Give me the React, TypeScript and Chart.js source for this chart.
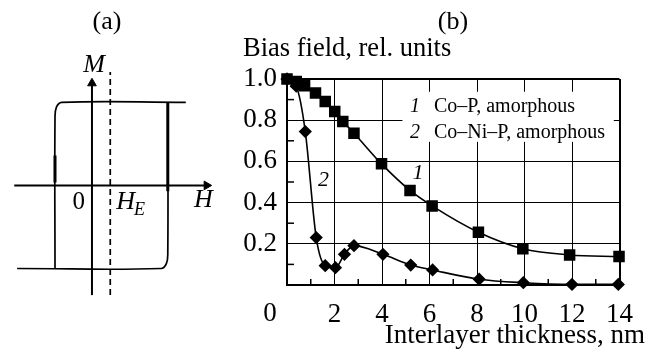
import React, { useEffect, useRef } from 'react';
import { Chart, registerables } from 'chart.js';

Chart.register(...registerables);

const FONT = '"Liberation Serif", "Times New Roman", serif';

// ---------- Panel (b): bias field vs interlayer thickness ----------
const thicknessCoP = [0, 0.39, 0.74, 1.2, 1.61, 2.01, 2.35, 2.82, 3.98, 5.18, 6.11, 8.06, 9.93, 11.9, 13.98];
const biasCoP = [1.0, 0.988, 0.967, 0.932, 0.891, 0.842, 0.794, 0.737, 0.588, 0.459, 0.384, 0.256, 0.176, 0.146, 0.138];
const thicknessCoNiP = [0, 0.39, 0.77, 1.23, 1.61, 2.04, 2.42, 2.82, 4.04, 5.21, 6.13, 8.09, 9.95, 12.0, 13.95];
const biasCoNiP = [1.0, 0.965, 0.745, 0.23, 0.094, 0.084, 0.149, 0.191, 0.149, 0.097, 0.073, 0.028, 0.011, 0.003, 0.003];
const seriesNumbers = ['1', '2'];
const seriesNames = ['Co\u2013P, amorphous', 'Co\u2013Ni\u2013P, amorphous'];
const xMinorTicks = [1, 3, 5, 7, 9, 11, 13];
const yMinorTicks = [0.1, 0.3, 0.5, 0.7, 0.9];
const yAxisTitle = 'Bias field, rel. units';
const xAxisTitle = 'Interlayer thickness, nm';

// ---------- Panel (a): schematic hysteresis loop (schematic units) ----------
const hAxisH = [-8.2, 12.0];
const hAxisM = [0, 0];
const hArrowH = [12.1];
const hArrowM = [0];
const mAxisH = [0, 0];
const mAxisM = [-11.35, 10.5];
const mArrowH = [0];
const mArrowM = [10.57];
const exchangeH = [1.93, 1.93];
const exchangeM = [-11.35, 11.75];
const loopUpperH = [-3.9, -3.9, -3.75, -3.2, 9.9];
const loopUpperM = [-8.6, 7.0, 8.1, 8.6, 8.6];
const loopLowerH = [8.0, 8.0, 7.85, 7.3, -7.9];
const loopLowerM = [8.6, -7.0, -8.1, -8.6, -8.6];
const leftJumpH = [-3.9, -3.9];
const leftJumpM = [0.3, 3.1];
const rightJumpH = [8.0, 8.0];
const rightJumpM = [-0.6, 8.6];

const pts = (xs: number[], ys: number[]) => xs.map((x, i) => ({ x, y: ys[i] }));

const panelBPlugin = {
  id: 'panelBDecor',
  beforeDatasetsDraw(chart: any) {
    const { ctx, scales } = chart;
    const x = scales.x, y = scales.y;
    const l = x.getPixelForValue(4.86), r = x.getPixelForValue(13.76);
    const t = y.getPixelForValue(0.938), b = y.getPixelForValue(0.695);
    ctx.save();
    ctx.fillStyle = '#fff';
    ctx.fillRect(l, t, r - l, b - t);
    ctx.restore();
  },
  afterDraw(chart: any) {
    const { ctx, chartArea, scales } = chart;
    const x = scales.x, y = scales.y;
    ctx.save();
    ctx.strokeStyle = '#000';
    ctx.fillStyle = '#000';
    ctx.lineWidth = 1.5;
    for (const v of xMinorTicks) {
      const px = x.getPixelForValue(v);
      ctx.beginPath();
      ctx.moveTo(px, chartArea.bottom);
      ctx.lineTo(px, chartArea.bottom - 6);
      ctx.stroke();
    }
    for (const v of yMinorTicks) {
      const py = y.getPixelForValue(v);
      ctx.beginPath();
      ctx.moveTo(chartArea.left, py);
      ctx.lineTo(chartArea.left + 7, py);
      ctx.stroke();
    }
    ctx.font = `26px ${FONT}`;
    ctx.textAlign = 'center';
    ctx.textBaseline = 'middle';
    ctx.fillText('(b)', 453, 22);
    ctx.textBaseline = 'alphabetic';
    ctx.textAlign = 'left';
    ctx.font = `26.5px ${FONT}`;
    ctx.fillText(yAxisTitle, 243, 56);
    ctx.textAlign = 'right';
    ctx.font = `27px ${FONT}`;
    ctx.fillText(xAxisTitle, 645, 343);
    ctx.font = `27px ${FONT}`;
    ctx.textAlign = 'center';
    ctx.fillText('0', x.getPixelForValue(0) - 17, 321);
    const rows = [112, 138];
    seriesNames.forEach((name, i) => {
      ctx.textAlign = 'left';
      ctx.font = `italic 20px ${FONT}`;
      ctx.fillText(seriesNumbers[i], 410, rows[i]);
      ctx.font = `20px ${FONT}`;
      ctx.fillText(name, 434, rows[i]);
    });
    ctx.font = `italic 22px ${FONT}`;
    ctx.textAlign = 'center';
    ctx.textBaseline = 'middle';
    ctx.fillText(seriesNumbers[0], x.getPixelForValue(5.52), y.getPixelForValue(0.543));
    ctx.fillText(seriesNumbers[1], x.getPixelForValue(1.54), y.getPixelForValue(0.51));
    ctx.restore();
  },
};

const panelAPlugin = {
  id: 'panelADecor',
  afterDraw(chart: any) {
    const { ctx, scales } = chart;
    const x = scales.x, y = scales.y;
    ctx.save();
    ctx.fillStyle = '#000';
    ctx.textBaseline = 'middle';
    ctx.textAlign = 'center';
    ctx.font = `26px ${FONT}`;
    ctx.fillText('(a)', 107, 22);
    ctx.font = `italic 26px ${FONT}`;
    ctx.fillText('M', x.getPixelForValue(0.23), y.getPixelForValue(12.4));
    ctx.font = `25px ${FONT}`;
    ctx.fillText('0', x.getPixelForValue(-1.4), y.getPixelForValue(-1.75));
    ctx.font = `italic 26px ${FONT}`;
    ctx.fillText('H', x.getPixelForValue(11.75), y.getPixelForValue(-1.55));
    ctx.textAlign = 'left';
    ctx.textBaseline = 'alphabetic';
    const hx = x.getPixelForValue(2.55);
    const hy = y.getPixelForValue(-2.45);
    ctx.fillText('H', hx, hy);
    const w = ctx.measureText('H').width;
    ctx.font = `italic 18px ${FONT}`;
    ctx.fillText('E', hx + w - 1, hy + 6);
    ctx.restore();
  },
};

export default function App() {
  const refA = useRef<HTMLCanvasElement>(null);
  const refB = useRef<HTMLCanvasElement>(null);

  useEffect(() => {
    const black = '#000';
    const line = (data: any[], extra: any = {}) => ({
      data,
      showLine: true,
      borderColor: black,
      backgroundColor: black,
      borderWidth: 1.7,
      pointRadius: 0,
      clip: false,
      ...extra,
    });

    const chartA = new Chart(refA.current as HTMLCanvasElement, {
      type: 'scatter',
      data: {
        datasets: [
          line(pts(hAxisH, hAxisM), { borderWidth: 2 }),
          line(pts(hArrowH, hArrowM), { showLine: false, pointStyle: 'triangle', pointRadius: 5, pointRotation: 90, borderWidth: 1 }),
          line(pts(mAxisH, mAxisM), { borderWidth: 2 }),
          line(pts(mArrowH, mArrowM), { showLine: false, pointStyle: 'triangle', pointRadius: 5, pointRotation: 0, borderWidth: 1 }),
          line(pts(exchangeH, exchangeM), { borderDash: [6, 4], borderWidth: 1.7 }),
          line(pts(loopUpperH, loopUpperM), { tension: 0.4 }),
          line(pts(loopLowerH, loopLowerM), { tension: 0.4 }),
          line(pts(leftJumpH, leftJumpM), { borderWidth: 3 }),
          line(pts(rightJumpH, rightJumpM), { borderWidth: 3 }),
        ],
      } as any,
      options: {
        responsive: false,
        animation: false,
        events: [],
        layout: { padding: 0 },
        plugins: { legend: { display: false }, tooltip: { enabled: false } },
        scales: {
          x: { type: 'linear', min: -9.07, max: 13.93, display: false },
          y: { type: 'linear', min: -16.93, max: 18.57, display: false },
        },
      } as any,
      plugins: [panelAPlugin],
    });

    const chartB = new Chart(refB.current as HTMLCanvasElement, {
      type: 'scatter',
      data: {
        datasets: [
          {
            data: pts(thicknessCoP, biasCoP),
            showLine: true,
            borderColor: black,
            backgroundColor: black,
            borderWidth: 1.6,
            pointStyle: 'rect',
            pointRadius: 7,
            cubicInterpolationMode: 'monotone',
            clip: false,
          },
          {
            data: pts(thicknessCoNiP, biasCoNiP),
            showLine: true,
            borderColor: black,
            backgroundColor: black,
            borderWidth: 1.6,
            pointStyle: 'rectRot',
            pointRadius: 5.5,
            cubicInterpolationMode: 'monotone',
            clip: false,
          },
        ],
      } as any,
      options: {
        responsive: false,
        animation: false,
        events: [],
        layout: { padding: { left: 0, top: 79, right: 14, bottom: 0 } },
        plugins: { legend: { display: false }, tooltip: { enabled: false } },
        scales: {
          x: {
            type: 'linear',
            min: 0,
            max: 14,
            ticks: {
              stepSize: 2,
              autoSkip: false,
              maxRotation: 0,
              color: black,
              padding: 14,
              font: { family: FONT, size: 27 },
              callback: (v: any) => (v === 0 ? '' : String(v)),
            },
            grid: {
              color: black,
              drawTicks: false,
              lineWidth: (c: any) => (c.tick && c.tick.value === 14 ? 2 : 1),
            },
            border: { color: black, width: 2 },
            afterFit: (s: any) => {
              s.height = 70;
            },
          },
          y: {
            type: 'linear',
            min: 0,
            max: 1,
            ticks: {
              stepSize: 0.2,
              color: black,
              padding: 10,
              font: { family: FONT, size: 27 },
              callback: (v: any) => (Math.abs(v) < 1e-9 ? '' : Number(v).toFixed(1)),
            },
            grid: {
              color: black,
              drawTicks: false,
              lineWidth: (c: any) => (c.tick && Math.abs(c.tick.value - 1) < 1e-9 ? 2 : 1),
            },
            border: { color: black, width: 2 },
            afterFit: (s: any) => {
              s.width = 287;
            },
          },
        },
      } as any,
      plugins: [panelBPlugin],
    });

    return () => {
      chartA.destroy();
      chartB.destroy();
    };
  }, []);

  return (
    <div style={{ position: 'fixed', left: 0, top: 0, width: 647, height: 355, background: '#fff', overflow: 'hidden' }}>
      <canvas ref={refB} width={647} height={355} style={{ position: 'absolute', left: 0, top: 0 }} />
      <canvas ref={refA} width={230} height={355} style={{ position: 'absolute', left: 0, top: 0 }} />
    </div>
  );
}
